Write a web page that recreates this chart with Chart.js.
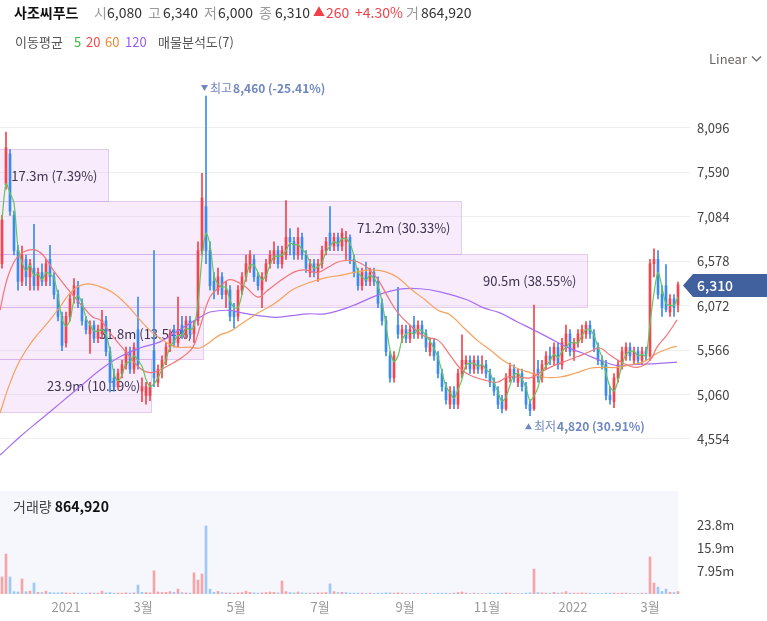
<!DOCTYPE html>
<html><head><meta charset="utf-8">
<script src="https://cdn.jsdelivr.net/npm/chart.js@4.4.0/dist/chart.umd.min.js"></script>
<style>
html,body{margin:0;padding:0;background:#fff;}
body{width:767px;height:621px;overflow:hidden;position:relative;font-family:"Noto Sans CJK KR","Noto Sans",sans-serif;}
.t{position:absolute;white-space:nowrap;line-height:1;z-index:5;}
canvas{position:absolute;left:0;}
#c1{top:0;z-index:1;}
#c2{top:465px;z-index:2;}
</style></head><body>
<canvas id="c1" width="767" height="502"></canvas>
<canvas id="c2" width="767" height="156"></canvas>

<div class="t" style="left:14px;top:5px;font-size:14px;font-weight:700;color:#111">사조씨푸드</div>
<div class="t" style="left:94px;top:5px;font-size:14px;color:#9a9a9a">시</div>
<div class="t" style="left:107px;top:5px;font-size:14px;color:#333">6,080</div>
<div class="t" style="left:148px;top:5px;font-size:14px;color:#9a9a9a">고</div>
<div class="t" style="left:163px;top:5px;font-size:14px;color:#333">6,340</div>
<div class="t" style="left:204px;top:5px;font-size:14px;color:#9a9a9a">저</div>
<div class="t" style="left:218px;top:5px;font-size:14px;color:#333">6,000</div>
<div class="t" style="left:259px;top:5px;font-size:14px;color:#9a9a9a">종</div>
<div class="t" style="left:275px;top:5px;font-size:14px;color:#333">6,310</div>
<div class="t" style="left:313px;top:6px;font-size:12px;color:#f0414b">▲</div>
<div class="t" style="left:326px;top:5px;font-size:14px;color:#f0414b">260</div>
<div class="t" style="left:355px;top:5px;font-size:14px;color:#f0414b">+4.30%</div>
<div class="t" style="left:406px;top:5px;font-size:14px;color:#9a9a9a">거</div>
<div class="t" style="left:421px;top:5px;font-size:14px;color:#333">864,920</div>

<div class="t" style="left:15px;top:35px;font-size:13px;color:#555">이동평균</div>
<div class="t" style="left:74px;top:35px;font-size:13px;color:#3cb83c">5</div>
<div class="t" style="left:86px;top:35px;font-size:13px;color:#f04a4a">20</div>
<div class="t" style="left:105px;top:35px;font-size:13px;color:#f08a3a">60</div>
<div class="t" style="left:125px;top:35px;font-size:13px;color:#9a5cf2">120</div>
<div class="t" style="left:158px;top:35px;font-size:13px;color:#555">매물분석도(7)</div>

<div class="t" style="left:709px;top:52px;font-size:13px;color:#6e6464">Linear</div>
<svg class="t" style="left:751px;top:55px" width="11" height="8"><polyline points="1,1.5 5.5,6 10,1.5" fill="none" stroke="#6e6464" stroke-width="1.2"/></svg>

<div class="t" style="left:13px;top:499px;font-size:14px;color:#444">거래량 <span style="font-weight:700;color:#111">864,920</span></div>

<script>
// ---- data (each candle = 2 trading days) ----
const opens = [6550,7450,7800,7100,6700,6350,6600,6400,6500,6300,
6450,6350,6600,6400,6200,5950,5650,5950,6200,6300,
6100,5900,5750,5850,5700,5750,5900,5550,5250,5150,
5300,5400,5550,5350,5800,5100,5050,5050,5560,5200,
5350,5450,5600,5800,5650,5850,5750,5900,5750,5900,
6700,7200,6700,6350,6250,6400,6200,6250,6000,5950,
6250,6400,6500,6600,6400,6250,6400,6550,6600,6700,
6550,6650,6850,6800,6650,6850,6650,6450,6550,6450,
6550,6700,6900,6750,6850,6750,6800,6850,6600,6450,
6300,6450,6350,6450,6350,6100,5900,5500,5250,5850,
5750,5800,5700,5850,5750,5850,5750,5550,5650,5500,
5300,5150,4950,5100,4950,5300,5400,5450,5350,5450,
5350,5400,5300,5200,5100,5000,4900,5250,5350,5200,
5300,5150,4950,4900,5350,5250,5400,5500,5450,5600,
5400,5600,5750,5550,5650,5700,5750,5850,5750,5600,
5450,5400,5050,4980,5250,5400,5500,5600,5450,5550,
5450,5550,5500,6550,6600,6200,6300,6000,6150,6080];
const highs = [7100,8050,7850,7150,6760,6750,6650,6600,7000,6500,
6550,6600,6760,6450,6250,6000,6000,6200,6380,6350,
6150,5950,5900,5900,5850,6020,5950,5600,5350,5350,
5450,5600,5600,5650,6170,5250,5200,5200,6700,5400,
5500,5650,5800,5850,6170,5950,5950,5950,5900,6800,
7580,8460,6800,6450,6500,6450,6350,6300,6100,6300,
6450,6650,6700,6650,6450,6450,6600,6700,6800,6750,
6750,7270,6950,6850,6960,6900,6700,6600,6600,6600,
6750,6850,7200,6900,6900,6950,6920,6880,6650,6500,
6500,6570,6500,6500,6400,6150,5950,5550,5550,6280,
5850,5850,5850,5950,5900,5900,5800,5700,5700,5550,
5350,5200,5150,5150,5350,5740,5500,5500,5500,5500,
5500,5450,5350,5250,5150,5050,5300,5420,5400,5350,
5350,5200,5000,6080,5450,5450,5550,5600,5650,5650,
5700,5850,5800,5700,5800,5850,5890,5900,5800,5650,
5500,5450,5150,5300,5450,5600,5650,5650,5600,5600,
5600,5600,6600,6720,6700,6300,6540,6200,6200,6340];
const lows = [6500,7400,7100,6650,6250,6300,6300,6250,6250,6250,
6300,6300,6300,6150,5900,5560,5600,5900,6100,6050,
5850,5750,5530,5650,5650,5700,5500,5090,5100,5120,
5250,5350,5300,5300,5350,4980,4950,4990,5150,5150,
5250,5400,5550,5600,5600,5700,5700,5700,5650,5850,
6650,6550,6250,6150,6200,6150,6050,5900,5820,5900,
6200,6350,6450,6350,6250,6050,6350,6500,6550,6500,
6500,6600,6650,6600,6600,6600,6450,6400,6400,6350,
6500,6650,6700,6700,6700,6700,6600,6550,6400,6250,
6250,6300,6300,6300,6050,5850,5500,5200,5200,5700,
5650,5650,5650,5700,5700,5700,5550,5500,5450,5250,
5100,4950,4900,4900,4900,5250,5350,5300,5300,5300,
5300,5250,5150,5050,4900,4850,4880,5200,5200,5150,
5100,4900,4820,4880,5200,5200,5350,5400,5400,5350,
5350,5550,5500,5450,5600,5650,5700,5700,5550,5400,
5350,5000,4950,4910,5200,5350,5450,5450,5400,5400,
5400,5450,5450,6400,6150,5950,6000,5950,5950,6000];
const closes = [7050,7870,7150,6700,6350,6650,6400,6550,6300,6450,
6350,6550,6400,6200,5950,5620,5950,6150,6300,6100,
5900,5800,5850,5700,5800,5900,5550,5200,5150,5300,
5400,5550,5350,5600,5400,5150,5150,5150,5250,5350,
5450,5600,5750,5650,5800,5750,5900,5750,5850,6700,
7300,6700,6300,6250,6400,6200,6250,5950,5950,6250,
6400,6550,6650,6400,6300,6400,6550,6650,6700,6550,
6700,6850,6800,6650,6850,6650,6500,6550,6450,6550,
6700,6800,6750,6850,6750,6900,6850,6600,6450,6300,
6450,6350,6450,6350,6100,5900,5550,5250,5500,5750,
5800,5700,5800,5750,5850,5750,5600,5650,5500,5300,
5150,5000,5100,4950,5300,5450,5450,5350,5450,5350,
5400,5300,5200,5100,4950,4900,5250,5350,5250,5300,
5150,4950,4880,5300,5250,5400,5500,5450,5600,5400,
5650,5750,5550,5650,5750,5800,5850,5750,5600,5450,
5400,5050,5000,5250,5400,5550,5600,5500,5550,5450,
5550,5500,6550,6600,6200,6050,6030,6150,6050,6310];
// volume in millions of shares
const volumes = [5.9,13.8,5.9,0.8,0.7,5.2,0.8,1.0,3.8,0.6,
0.5,1.0,0.5,0.4,0.4,0.5,0.4,0.3,0.4,0.3,
0.3,0.3,0.4,0.3,0.3,1.0,0.4,0.5,0.3,0.3,
0.3,0.4,0.3,0.4,3.1,0.6,0.5,0.4,8.0,0.7,
0.5,0.6,0.8,0.6,1.7,0.5,0.4,0.3,7.3,4.8,
6.9,23.5,1.7,0.6,0.9,0.5,0.4,0.4,0.3,0.4,
0.5,1.0,0.6,0.4,0.3,0.4,0.5,0.7,0.6,0.4,
4.5,0.8,0.5,0.4,0.7,0.4,0.3,0.3,0.3,0.4,
0.4,0.5,3.5,0.8,0.5,0.6,0.5,0.3,0.3,0.3,
0.3,0.2,0.3,0.2,0.3,0.3,0.4,0.4,0.3,0.4,
0.3,0.2,0.2,0.3,0.2,0.2,0.3,0.2,0.2,0.3,
0.3,0.3,0.2,0.3,0.5,0.7,0.3,0.2,0.3,0.2,
0.2,0.2,0.3,0.2,0.3,0.3,0.4,0.3,0.2,0.2,
0.2,0.3,0.4,8.6,0.5,0.4,0.3,0.3,0.6,0.3,
0.4,0.8,0.3,0.3,0.3,0.4,0.3,0.3,0.2,0.2,
0.2,0.3,0.3,0.3,0.2,0.3,0.3,0.2,0.2,0.2,
0.3,0.3,12.8,3.8,2.4,0.9,1.7,0.6,0.5,0.86];

// moving averages: [trading day, price]
const ma20Pts = [[0,6020],[3.5,6370],[7.5,6590],[11.5,6680],[16.5,6710],[21.5,6650],[26.5,6480],[31.5,6330],[36.5,6190],[41.5,6060],[46.5,5940],[50,5910],[56.5,5720],[63.5,5530],[70,5360],[75,5310],[80,5340],[86.5,5420],[91.5,5490],[96.5,5600],[100,5830],[105,6170],[110,6290],[115,6370],[122.5,6290],[129,6170],[134,6250],[141,6370],[147.5,6460],[152.5,6480],[159,6450],[164,6510],[169,6570],[174,6590],[179,6570],[184,6500],[189,6370],[194,6170],[199,5990],[206,5830],[212.5,5720],[219,5680],[225,5510],[230,5360],[235,5280],[241.5,5230],[248.5,5200],[253.5,5260],[258.5,5260],[265,5250],[270,5310],[275,5370],[281.5,5430],[288.5,5490],[295,5550],[300,5590],[305,5510],[311.5,5420],[318.5,5370],[325,5450],[328.5,5600],[333.5,5740],[338.5,5910]];
const ma60Pts = [[0,4850],[5,5190],[10,5450],[16.5,5680],[25,5910],[30,6060],[36.5,6250],[43.5,6320],[50,6290],[56.5,6220],[63.5,6080],[70,5910],[76.5,5760],[83.5,5650],[88.5,5600],[95,5600],[100,5590],[105,5660],[110,5740],[115,5780],[121,5870],[129,5990],[137.5,6100],[146,6250],[154,6330],[162.5,6390],[171,6420],[179,6460],[186,6480],[192.5,6460],[199,6390],[206,6250],[212.5,6140],[219,6020],[225,5970],[231.5,5830],[238.5,5680],[245,5570],[251.5,5450],[258.5,5360],[265,5310],[271.5,5260],[280,5260],[288.5,5310],[295,5360],[301.5,5370],[308.5,5370],[315,5400],[321.5,5430],[328.5,5530],[335,5590],[338.5,5610]];
const ma120Pts = [[0,4370],[10,4580],[20,4770],[30,4960],[40,5150],[50,5340],[60,5490],[70,5590],[80,5660],[90,5800],[100,5940],[105,6000],[115,6020],[121,5990],[129,5960],[137.5,5940],[146,5960],[154,5980],[162.5,5980],[175,6060],[188.5,6190],[200,6260],[210,6265],[220,6230],[233.5,6140],[241.5,6050],[250,5990],[258.5,5890],[266.5,5800],[275,5700],[283.5,5600],[291.5,5530],[300,5450],[308.5,5390],[316.5,5400],[325,5410],[333.5,5420],[338.5,5430]];

// volume profile (매물분석도, 7 price bands)
const profileEdges = [8460,7860,7260,6660,6060,5460,4860,4260];
const profileVolM = [0,17.3,71.2,90.5,31.8,23.9,0];
const profilePct = [0,7.39,30.33,38.55,13.54,10.19,0];

const yTickValues = [4554,5060,5566,6072,6578,7084,7590,8096];
const volTickValues = [7.95,15.9,23.8];
const volTickLabels = ['7.95m','15.9m','23.8m'];
const monthTickDays = [33,71.5,118,160,202.5,243.5,286.5,325];
const monthTickLabels = ['2021','3월','5월','7월','9월','11월','2022','3월'];

// ---- chart ----
const FONT = '"Noto Sans CJK KR","Noto Sans",sans-serif';
Chart.defaults.font.family = FONT;
const N = closes.length;
const dayX = closes.map((_, i) => 1 + 2 * i);
const UP = '#f2454d', DOWN = '#3a8bec';
const candleColor = i => closes[i] >= opens[i] ? UP : DOWN;
const ma5 = closes.map((c, i) => {
  const s = closes.slice(Math.max(0, i - 2), i + 1);
  return {x: dayX[i], y: s.reduce((a, b) => a + b, 0) / s.length};
});
const toXY = arr => arr.map(p => ({x: p[0], y: p[1]}));
const lineDs = (data, color, order, tension) => ({type: 'line', data, borderColor: color, borderWidth: 1.2, pointRadius: 0, tension, order, fill: false});

const profilePlugin = {
  id: 'profile',
  beforeDatasetsDraw(chart) {
    const {ctx, chartArea} = chart, y = chart.scales.y, xp = chart.scales.xp;
    ctx.save();
    ctx.beginPath(); ctx.rect(chartArea.left, chartArea.top, chartArea.right - chartArea.left, chartArea.bottom - chartArea.top); ctx.clip();
    for (let k = 0; k < profileVolM.length; k++) {
      if (!profileVolM[k]) continue;
      const y1 = Math.round(y.getPixelForValue(profileEdges[k])) + 0.5;
      const y2 = Math.round(y.getPixelForValue(profileEdges[k + 1])) + 0.5;
      const x0 = xp.getPixelForValue(0);
      const x1 = Math.round(xp.getPixelForValue(profileVolM[k])) + 0.5;
      ctx.fillStyle = 'rgba(228,180,245,0.26)';
      ctx.fillRect(x0, y1, x1 - x0, y2 - y1);
      ctx.strokeStyle = 'rgba(200,150,222,0.45)'; ctx.lineWidth = 1;
      ctx.strokeRect(x0, y1, x1 - x0, y2 - y1);
      ctx.fillStyle = '#3c3450'; ctx.font = '13px ' + FONT;
      ctx.textAlign = 'right'; ctx.textBaseline = 'middle';
      ctx.fillText(profileVolM[k] + 'm (' + profilePct[k].toFixed(2) + '%)', x1 - 11, (y1 + y2) / 2 + 0.5);
    }
    ctx.restore();
  }
};

const extremePlugin = {
  id: 'extremes',
  afterDatasetsDraw(chart) {
    const {ctx} = chart, xs = chart.scales.x, ys = chart.scales.y;
    const last = closes[N - 1];
    const hi = Math.max(...highs), lo = Math.min(...lows);
    const items = [
      {i: highs.indexOf(hi), v: hi, up: false, name: '최고', off: -8},
      {i: lows.indexOf(lo), v: lo, up: true, name: '최저', off: 10.5}
    ];
    ctx.save();
    for (const it of items) {
      const cx = xs.getPixelForValue(dayX[it.i]);
      const cy = ys.getPixelForValue(it.v) + it.off;
      ctx.fillStyle = '#6f87c1';
      const tx = cx - 1.5;
      ctx.beginPath();
      if (it.up) { ctx.moveTo(tx - 3.5, cy + 3); ctx.lineTo(tx + 3.5, cy + 3); ctx.lineTo(tx, cy - 3); }
      else { ctx.moveTo(tx - 3.5, cy - 3); ctx.lineTo(tx + 3.5, cy - 3); ctx.lineTo(tx, cy + 3); }
      ctx.closePath(); ctx.fill();
      ctx.textAlign = 'left'; ctx.textBaseline = 'middle';
      ctx.font = '12px ' + FONT;
      let x = cx + 4;
      ctx.fillText(it.name, x, cy);
      x += ctx.measureText(it.name).width + 1;
      const pct = (last - it.v) / it.v * 100;
      ctx.font = '600 12px ' + FONT;
      ctx.fillText(it.v.toLocaleString('en-US') + ' (' + pct.toFixed(2) + '%)', x, cy);
    }
    ctx.restore();
  }
};

const tagPlugin = {
  id: 'tag',
  afterDraw(chart) {
    const {ctx, chartArea} = chart, ys = chart.scales.y;
    const last = closes[N - 1];
    const yc = Math.round(ys.getPixelForValue(last)) + 0.5;
    const x0 = chartArea.right - 7, W = chart.width;
    ctx.save();
    ctx.fillStyle = '#41609e';
    ctx.beginPath();
    ctx.moveTo(x0, yc); ctx.lineTo(x0 + 10, yc - 11.5); ctx.lineTo(W, yc - 11.5); ctx.lineTo(W, yc + 11.5); ctx.lineTo(x0 + 10, yc + 11.5);
    ctx.closePath(); ctx.fill();
    ctx.fillStyle = '#fff'; ctx.font = '500 14px ' + FONT; ctx.textAlign = 'left'; ctx.textBaseline = 'middle';
    ctx.fillText(last.toLocaleString('en-US'), chartArea.right + 7, yc + 0.5);
    ctx.restore();
  }
};

new Chart(document.getElementById('c1'), {
  type: 'bar',
  data: {datasets: [
    lineDs(ma5, '#5ec85e', 0, 0.3),
    lineDs(toXY(ma20Pts), '#f27676', 1, 0.4),
    lineDs(toXY(ma60Pts), '#f5a25c', 2, 0.4),
    lineDs(toXY(ma120Pts), '#a56ef3', 3, 0.4),
    {type: 'bar', data: dayX.map((x, i) => ({x, y: [opens[i], closes[i]]})), backgroundColor: c => candleColor(c.dataIndex), barThickness: 2, minBarLength: 1, grouped: false, borderWidth: 0, order: 5},
    {type: 'bar', data: dayX.map((x, i) => ({x, y: [lows[i], highs[i]]})), backgroundColor: c => candleColor(c.dataIndex), barThickness: 1, grouped: false, borderWidth: 0, order: 6}
  ]},
  options: {
    responsive: false, animation: false, devicePixelRatio: 1,
    layout: {padding: {top: 75, left: 0, right: 0, bottom: 15}},
    plugins: {legend: {display: false}, tooltip: {enabled: false}},
    scales: {
      x: {type: 'linear', min: 0, max: 345, display: false, offset: false, grid: {offset: false}},
      xp: {type: 'linear', axis: 'x', min: 0.8, max: 106.2, display: false, offset: false, grid: {offset: false}},
      y: {position: 'right', min: 4007.3, max: 8699.6,
        afterBuildTicks: s => { s.ticks = yTickValues.map(v => ({value: v})); },
        afterFit: s => { s.width = 77; },
        grid: {color: '#efefef', drawTicks: false}, border: {display: false},
        ticks: {padding: 7, color: '#444', font: {size: 13}, callback: v => Number(v).toLocaleString('en-US')}}
    }
  },
  plugins: [profilePlugin, extremePlugin, tagPlugin]
});

const volBg = {
  id: 'volbg',
  beforeDatasetsDraw(chart) {
    const {ctx, chartArea} = chart;
    ctx.save();
    ctx.fillStyle = '#f6f7fc';
    ctx.fillRect(chartArea.left, chartArea.top, chartArea.right - chartArea.left - 2, chartArea.bottom - chartArea.top);
    ctx.restore();
  }
};

new Chart(document.getElementById('c2'), {
  type: 'bar',
  data: {datasets: [{
    data: dayX.map((x, i) => ({x, y: volumes[i]})),
    backgroundColor: c => { const i = c.dataIndex; const up = i === 0 ? closes[0] >= opens[0] : closes[i] >= closes[i - 1]; return up ? '#f5a4a8' : '#9ec9f5'; },
    barThickness: 2, grouped: false, borderWidth: 0
  }]},
  options: {
    responsive: false, animation: false, devicePixelRatio: 1,
    layout: {padding: {top: 26, left: 0, right: 0, bottom: 0}},
    plugins: {legend: {display: false}, tooltip: {enabled: false}},
    scales: {
      x: {type: 'linear', min: 0, max: 340, offset: false, grid: {display: false, drawTicks: false, offset: false}, border: {display: false},
        afterBuildTicks: s => { s.ticks = monthTickDays.map(v => ({value: v})); },
        afterFit: s => { s.height = 27; },
        ticks: {autoSkip: false, maxRotation: 0, padding: 5, color: '#999', font: {size: 13}, callback: (v, i) => monthTickLabels[i]}},
      y: {position: 'right', min: 0, max: 35.6, grid: {display: false, drawTicks: false}, border: {display: false},
        afterBuildTicks: s => { s.ticks = volTickValues.map(v => ({value: v})); },
        afterFit: s => { s.width = 87; },
        ticks: {padding: 17, color: '#444', font: {size: 13}, callback: (v, i) => volTickLabels[i]}}
    }
  },
  plugins: [volBg]
});
</script>
</body></html>
